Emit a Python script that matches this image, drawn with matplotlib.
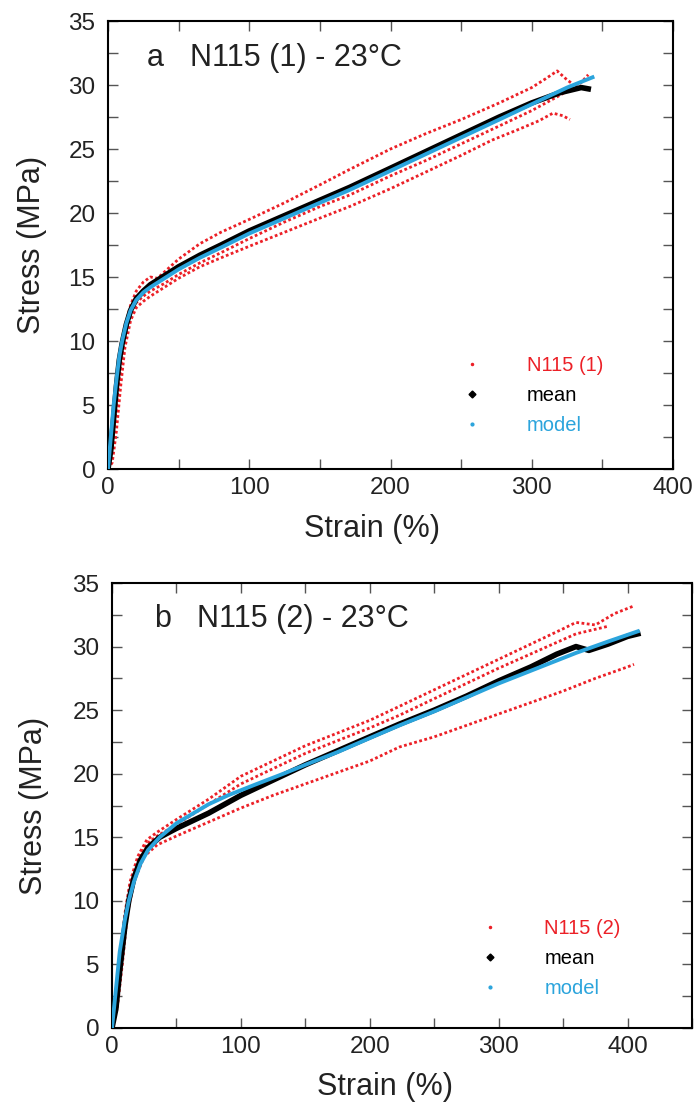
import matplotlib
matplotlib.use('Agg')
import matplotlib.pyplot as plt
from matplotlib.ticker import MultipleLocator
from matplotlib.lines import Line2D
import numpy as np

plt.rcParams['font.family'] = ['Liberation Sans', 'DejaVu Sans']

RED = '#ec2027'
BLUE = '#2ba4dc'

# ---- panel a : N115 (1) ----
a_r1_x = [0, 2, 4, 6, 8, 10, 13, 16, 20, 25, 30, 35, 40, 50, 65, 80, 100, 125, 150, 171, 200, 225, 250, 277, 300, 310, 318, 325, 330]
a_r1_y = [0, 1, 3, 5.5, 7.8, 9.5, 11.5, 12.8, 13.9, 14.6, 15.0, 14.9, 15.4, 16.4, 17.6, 18.5, 19.5, 20.8, 22.2, 23.4, 25.0, 26.2, 27.3, 28.6, 29.8, 30.5, 31.1, 30.4, 30.0]
a_r2_x = [0, 3, 6, 9, 12, 16, 20, 25, 30, 40, 50, 65, 80, 100, 125, 150, 171, 200, 225, 250, 277, 300, 320, 335, 340]
a_r2_y = [0, 2, 5, 8, 10.5, 12.2, 13.0, 13.5, 13.9, 14.5, 15.2, 16.1, 16.9, 18.0, 19.3, 20.5, 21.4, 22.9, 24.1, 25.4, 26.8, 28.0, 29.2, 30.2, 30.8]
a_r3_x = [0, 3, 6, 9, 12, 16, 20, 25, 30, 40, 50, 65, 80, 100, 125, 150, 171, 200, 225, 250, 272, 290, 305, 315, 322, 327]
a_r3_y = [0, 0.5, 3, 6.5, 9.5, 11.6, 12.6, 13.1, 13.5, 14.2, 14.9, 15.8, 16.5, 17.4, 18.5, 19.6, 20.5, 21.9, 23.2, 24.5, 25.7, 26.5, 27.2, 27.8, 27.6, 27.3]
a_mean_x = [0, 2, 4, 6, 8, 10, 13, 16, 20, 25, 30, 40, 50, 65, 80, 100, 125, 150, 171, 200, 225, 250, 277, 300, 320, 335, 340]
a_mean_y = [0, 1.5, 4, 6.5, 8.5, 9.8, 11.3, 12.4, 13.3, 13.9, 14.4, 15.1, 15.8, 16.7, 17.5, 18.6, 19.8, 21.0, 22.0, 23.5, 24.8, 26.1, 27.5, 28.6, 29.4, 29.8, 29.7]
a_model_x = [0, 2, 4, 6, 8, 10, 13, 16, 20, 25, 30, 40, 50, 65, 80, 100, 125, 150, 171, 200, 225, 250, 277, 300, 325, 343]
a_model_y = [0, 2.5, 5, 7, 8.8, 10.0, 11.4, 12.4, 13.2, 13.8, 14.2, 14.9, 15.6, 16.5, 17.3, 18.4, 19.6, 20.8, 21.8, 23.3, 24.6, 25.9, 27.3, 28.5, 29.8, 30.6]

# ---- panel b : N115 (2) ----
b_r1_x = [0, 3, 6, 10, 14, 20, 27, 35, 50, 75, 100, 125, 150, 175, 200, 223, 250, 275, 300, 325, 350, 360, 375, 390, 405]
b_r1_y = [0, 2, 5, 9, 11.5, 13.5, 14.8, 15.4, 16.4, 18.0, 19.8, 21.0, 22.2, 23.2, 24.2, 25.3, 26.6, 27.8, 29.0, 30.2, 31.4, 31.9, 31.7, 32.6, 33.2]
b_r2_x = [0, 3, 6, 10, 14, 20, 27, 35, 50, 75, 100, 125, 150, 175, 200, 223, 250, 275, 300, 320, 340, 360, 385]
b_r2_y = [0, 1.5, 4.5, 8.5, 11.2, 13.2, 14.5, 15.1, 16.0, 17.6, 19.2, 20.4, 21.6, 22.6, 23.6, 24.6, 25.9, 27.1, 28.3, 29.2, 30.1, 31.0, 31.6]
b_r3_x = [0, 4, 8, 12, 17, 25, 35, 50, 75, 100, 125, 150, 175, 200, 223, 250, 275, 300, 325, 350, 375, 400, 405]
b_r3_y = [0, 1.5, 5, 9, 11.5, 13.5, 14.4, 15.1, 16.2, 17.3, 18.3, 19.2, 20.1, 21.0, 22.1, 22.9, 23.8, 24.7, 25.6, 26.5, 27.5, 28.4, 28.6]
b_mean_x = [0, 3, 6, 10, 13, 17, 22, 28, 37, 50, 75, 100, 125, 150, 175, 200, 223, 250, 275, 300, 325, 345, 360, 370, 385, 400, 408]
b_mean_y = [0, 1.5, 4.5, 8, 10, 11.8, 13.2, 14.2, 15.0, 15.7, 16.9, 18.3, 19.5, 20.7, 21.8, 22.9, 23.9, 25.0, 26.1, 27.3, 28.4, 29.4, 30.0, 29.7, 30.2, 30.8, 31.0]
b_model_x = [0, 3, 6, 10, 13, 17, 22, 28, 37, 50, 75, 90, 110, 133, 150, 175, 200, 223, 250, 275, 300, 325, 360, 385, 408]
b_model_y = [0, 3, 6, 8.5, 10, 11.5, 12.9, 14.0, 15.0, 16.1, 17.6, 18.3, 19.1, 20.0, 20.7, 21.7, 22.8, 23.8, 24.9, 26.0, 27.1, 28.1, 29.5, 30.4, 31.2]

fig = plt.figure(figsize=(6.98, 11.04), dpi=100)
ax_a = fig.add_axes([108 / 698, 1 - 469 / 1104, 565 / 698, 448 / 1104])
ax_b = fig.add_axes([112 / 698, 1 - 1028 / 1104, 580 / 698, 445 / 1104])


def draw_panel(ax, reps, mean, model, xmax, letter, title, rep_label, letter_x, title_x, leg_anchor, xlab_x):
    for rx, ry in reps:
        ax.plot(rx, ry, color=RED, lw=2.0, ls=(0, (1.0, 0.9)), zorder=2)
    ax.plot(mean[0], mean[1], color='black', lw=4.0, zorder=3)
    ax.plot(model[0], model[1], color=BLUE, lw=2.8, zorder=4)

    ax.set_xlim(0, xmax)
    ax.set_ylim(0, 35)
    ax.set_xticks([0, 100, 200, 300, 400])
    ax.xaxis.set_minor_locator(MultipleLocator(50))
    ax.yaxis.set_major_locator(MultipleLocator(5))
    ax.yaxis.set_minor_locator(MultipleLocator(2.5))
    ax.tick_params(which='both', direction='in', top=True, right=True, color='#555555')
    ax.tick_params(which='major', length=7, width=1.0, labelsize=17.5, labelcolor='#222222')
    ax.tick_params(which='minor', length=7, width=1.0)
    ax.tick_params(axis='y', pad=9)
    ax.tick_params(axis='x', pad=6)
    for sp in ax.spines.values():
        sp.set_linewidth(1.5)

    ax.set_xlabel('Strain (%)', fontsize=22, color='#222222')
    ax.set_ylabel('Stress (MPa)', fontsize=22, color='#222222')
    ax.xaxis.set_label_coords(xlab_x, -0.10)
    ax.yaxis.set_label_coords(-0.108, 0.5)

    ax.text(letter_x, 0.918, letter, transform=ax.transAxes, fontsize=22, va='center', color='#222222')
    ax.text(title_x, 0.918, title, transform=ax.transAxes, fontsize=22, va='center', color='#222222')

    handles = [
        Line2D([], [], ls='none', marker='.', ms=3, color=RED, label=rep_label),
        Line2D([], [], ls='none', marker='D', ms=3.5, color='black', label='mean'),
        Line2D([], [], ls='none', marker='.', ms=4, color=BLUE, label='model'),
    ]
    ax.legend(handles=handles, loc='upper left', bbox_to_anchor=leg_anchor, frameon=False,
              fontsize=14.5, labelcolor='markerfacecolor', handlelength=2.0, handletextpad=1.7,
              labelspacing=0.55, borderpad=0, borderaxespad=0)


draw_panel(ax_a, [(a_r1_x, a_r1_y), (a_r2_x, a_r2_y), (a_r3_x, a_r3_y)],
           (a_mean_x, a_mean_y), (a_model_x, a_model_y), 400,
           'a', 'N115 (1) - 23°C', 'N115 (1)', 0.069, 0.145, (0.609, 0.252), 0.467)
draw_panel(ax_b, [(b_r1_x, b_r1_y), (b_r2_x, b_r2_y), (b_r3_x, b_r3_y)],
           (b_mean_x, b_mean_y), (b_model_x, b_model_y), 450,
           'b', 'N115 (2) - 23°C', 'N115 (2)', 0.072, 0.146, (0.617, 0.245), 0.47)

fig.savefig('out.png', dpi=100)
